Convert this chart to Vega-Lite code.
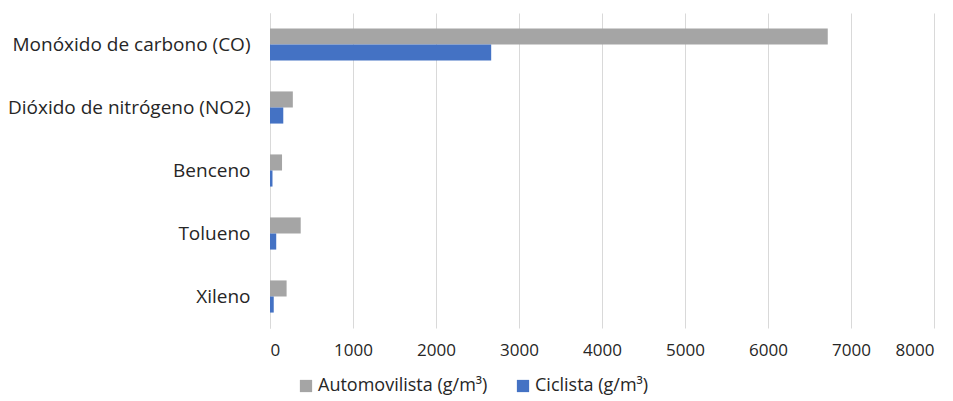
{
  "$schema": "https://vega.github.io/schema/vega-lite/v6.json",
  "autosize": "none",
  "width": 664,
  "height": 315,
  "padding": {"left": 270, "top": 13, "right": 19, "bottom": 73},
  "background": "white",
  "config": {"view": {"stroke": null}, "font": "Open Sans"},
  "data": {"values": [
    {"contaminante": "Monóxido de carbono (CO)", "grupo": "Automovilista (g/m³)", "valor": 6720},
    {"contaminante": "Monóxido de carbono (CO)", "grupo": "Ciclista (g/m³)", "valor": 2665},
    {"contaminante": "Dióxido de nitrógeno (NO2)", "grupo": "Automovilista (g/m³)", "valor": 275},
    {"contaminante": "Dióxido de nitrógeno (NO2)", "grupo": "Ciclista (g/m³)", "valor": 160},
    {"contaminante": "Benceno", "grupo": "Automovilista (g/m³)", "valor": 145},
    {"contaminante": "Benceno", "grupo": "Ciclista (g/m³)", "valor": 30},
    {"contaminante": "Tolueno", "grupo": "Automovilista (g/m³)", "valor": 370},
    {"contaminante": "Tolueno", "grupo": "Ciclista (g/m³)", "valor": 75},
    {"contaminante": "Xileno", "grupo": "Automovilista (g/m³)", "valor": 200},
    {"contaminante": "Xileno", "grupo": "Ciclista (g/m³)", "valor": 45}
  ]},
  "mark": {"type": "bar"},
  "encoding": {
    "y": {
      "field": "contaminante", "type": "nominal", "sort": null,
      "scale": {"paddingInner": 0.49, "paddingOuter": 0.245},
      "axis": {"title": null, "ticks": false, "domain": true, "domainColor": "#D9D9D9", "labelFontSize": 19, "labelColor": "#262626", "labelPadding": 20, "labelLimit": 300}
    },
    "yOffset": {"field": "grupo", "type": "nominal", "sort": null, "scale": {"paddingInner": 0, "paddingOuter": 0}},
    "x": {
      "field": "valor", "type": "quantitative",
      "scale": {"domain": [0, 8000], "nice": false},
      "axis": {"title": null, "values": [0,1000,2000,3000,4000,5000,6000,7000,8000], "ticks": false, "domain": false, "grid": true, "gridColor": "#D9D9D9", "labelFontSize": 17, "labelColor": "#262626", "labelPadding": 14, "format": "d"}
    },
    "color": {
      "field": "grupo", "type": "nominal", "sort": null,
      "scale": {"domain": ["Automovilista (g/m³)", "Ciclista (g/m³)"], "range": ["#A5A5A5", "#4472C4"]},
      "legend": {"title": null, "orient": "none", "direction": "horizontal", "legendX": 27, "legendY": 364, "symbolType": "square", "symbolSize": 150, "symbolStrokeWidth": 0, "labelFontSize": 18, "labelLimit": 400, "labelColor": "#262626", "columnPadding": 26, "labelOffset": 3}
    }
  }
}
